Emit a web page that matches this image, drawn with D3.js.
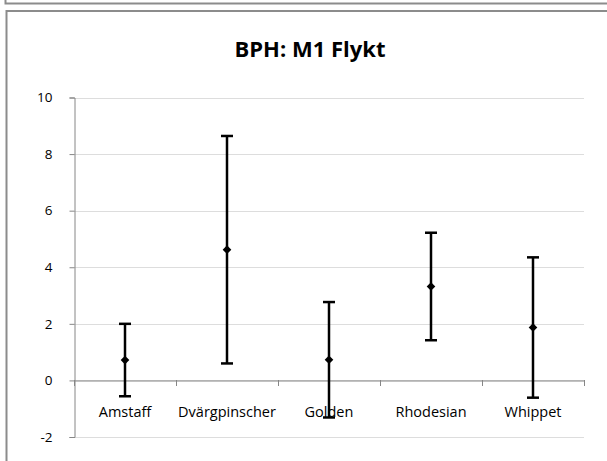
<!DOCTYPE html>
<html>
<head>
<meta charset="utf-8">
<script src="https://cdn.jsdelivr.net/npm/d3@7"></script>
<style>
  html, body { margin: 0; padding: 0; background: #ffffff; }
  svg { display: block; }
</style>
</head>
<body>
<svg id="chart" width="607" height="461"></svg>
<script>
// Breeds on the category axis
const breeds = ["Amstaff", "Dvärgpinscher", "Golden", "Rhodesian", "Whippet"];
// Mean score per breed
const means = [0.72, 4.62, 0.73, 3.32, 1.87];
// Half-width of the error bar (±)
const errors = [1.28, 4.02, 2.04, 1.90, 2.48];
// Value axis ticks
const yTicks = [-2, 0, 2, 4, 6, 8, 10];

const svg = d3.select("#chart");
const W = 607, H = 461;
const font = "'Open Sans', Lato, sans-serif";

// Outer frames
svg.append("rect").attr("x", 0).attr("y", 0).attr("width", W).attr("height", H).attr("fill", "#ffffff");
svg.append("path")
  .attr("d", `M5.5,0 V3.5 H${W}`)
  .attr("fill", "none").attr("stroke", "#8c8c8c").attr("stroke-width", 2);
svg.append("path")
  .attr("d", `M6.5,${H} V11 H${W}`)
  .attr("fill", "none").attr("stroke", "#8c8c8c").attr("stroke-width", 2);

// Plot area
const plot = { left: 74, right: 584, top: 97.5, bottom: 437 };

const x = d3.scaleBand().domain(breeds).range([plot.left, plot.right]);
const y = d3.scaleLinear().domain([-2, 10]).range([plot.bottom, plot.top]);

// Title
svg.append("text")
  .attr("x", 310).attr("y", 57)
  .attr("text-anchor", "middle")
  .attr("font-family", font).attr("font-weight", "bold")
  .attr("font-size", 22).attr("fill", "#000")
  .text("BPH: M1 Flykt");

// Gridlines
svg.append("g").selectAll("line").data(yTicks).join("line")
  .attr("x1", plot.left).attr("x2", plot.right)
  .attr("y1", d => Math.round(y(d)) + 0.5).attr("y2", d => Math.round(y(d)) + 0.5)
  .attr("stroke", "#dddddd").attr("stroke-width", 1);

// Y axis
const yAxis = svg.append("g")
  .attr("transform", `translate(${plot.left + 0.5},0)`)
  .call(d3.axisLeft(y).tickValues(yTicks).tickSize(5).tickPadding(17).tickFormat(d => String(d)));
yAxis.select(".domain").attr("stroke", "#868686");
yAxis.selectAll(".tick line").attr("stroke", "#868686");
yAxis.selectAll(".tick text")
  .attr("font-family", font).attr("font-size", 13.5).attr("fill", "#000");

// X axis at zero
const xAxis = svg.append("g")
  .attr("transform", `translate(0,${Math.round(y(0)) + 0.5})`)
  .call(d3.axisBottom(x).tickSize(0).tickPadding(26));
xAxis.select(".domain").attr("stroke", "#868686");
xAxis.selectAll(".tick text")
  .attr("font-family", font).attr("font-size", 14.5).attr("fill", "#000");
// Category boundary ticks
const bounds = breeds.map(b => x(b) + x.bandwidth()).concat([plot.left]);
svg.append("g").selectAll("line").data(bounds).join("line")
  .attr("x1", d => Math.round(d) + 0.5).attr("x2", d => Math.round(d) + 0.5)
  .attr("y1", Math.round(y(0))).attr("y2", Math.round(y(0)) + 6)
  .attr("stroke", "#868686");

// Error bars
const data = breeds.map((b, i) => ({ breed: b, mean: means[i], err: errors[i] }));
const bars = svg.append("g").selectAll("g").data(data).join("g")
  .attr("transform", d => `translate(${x(d.breed) + x.bandwidth() / 2},0)`);
bars.append("line")
  .attr("y1", d => y(d.mean + d.err)).attr("y2", d => y(d.mean - d.err))
  .attr("stroke", "#000").attr("stroke-width", 2.5);
bars.selectAll(".cap").data(d => [d.mean + d.err, d.mean - d.err]).join("line")
  .attr("x1", -6).attr("x2", 6)
  .attr("y1", v => y(v)).attr("y2", v => y(v))
  .attr("stroke", "#000").attr("stroke-width", 2.5);
bars.append("path")
  .attr("d", d3.symbol(d3.symbolDiamond2, 48))
  .attr("transform", d => `translate(0,${y(d.mean)})`)
  .attr("fill", "#000");
</script>
</body>
</html>
